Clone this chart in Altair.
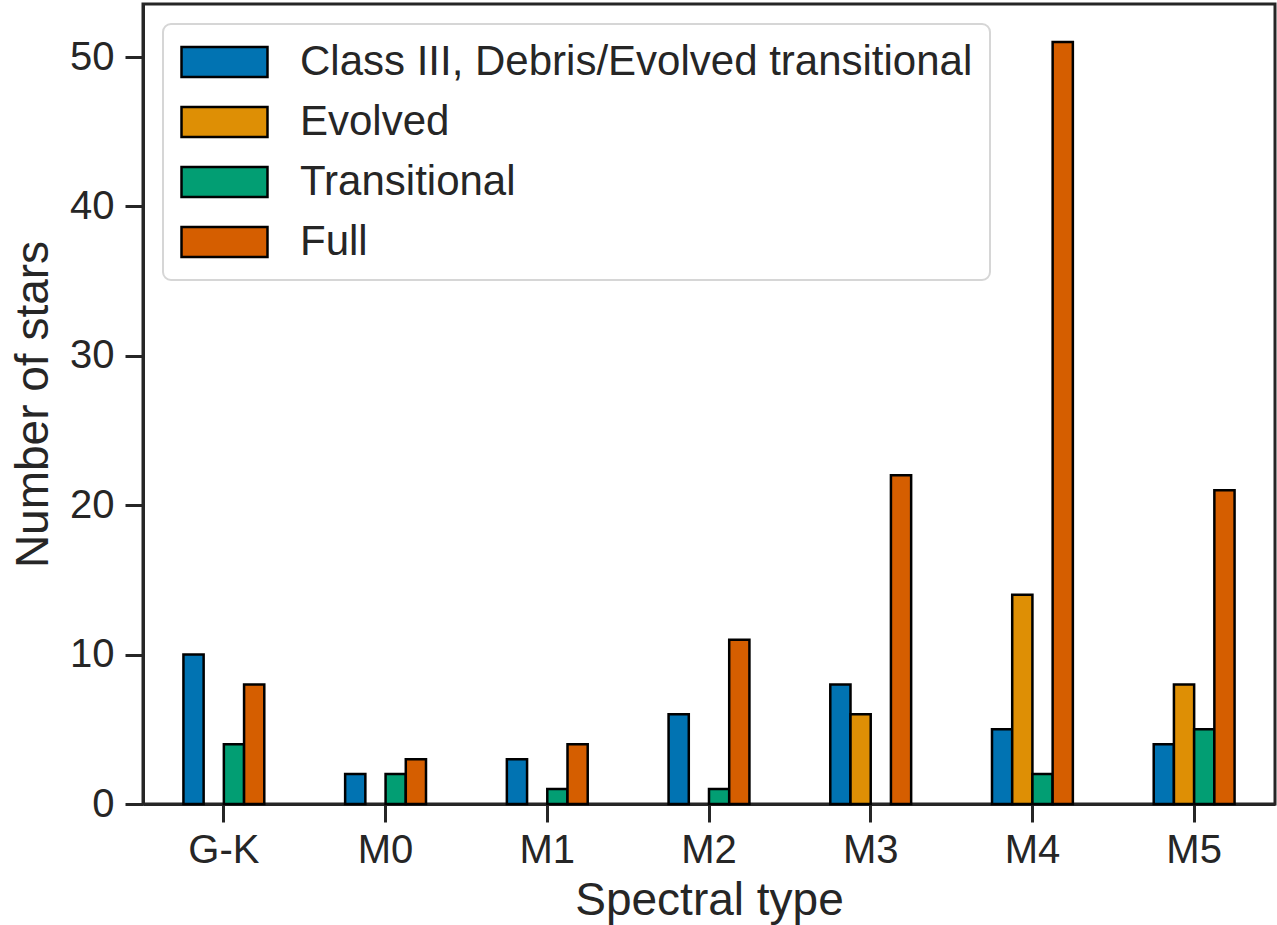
import altair as alt
import pandas as pd

spectral_types = ["G-K", "M0", "M1", "M2", "M3", "M4", "M5"]
disk_classes = ["Class III, Debris/Evolved transitional", "Evolved", "Transitional", "Full"]
class_iii = [10, 2, 3, 6, 8, 5, 4]
evolved = [0, 0, 0, 0, 6, 14, 8]
transitional = [4, 2, 1, 1, 0, 2, 5]
full = [8, 3, 4, 11, 22, 51, 21]
colors = ["#0173b2", "#de8f05", "#029e73", "#d55e00"]
y_ticks = [0, 10, 20, 30, 40, 50]

rows = []
for cls, vals in zip(disk_classes, [class_iii, evolved, transitional, full]):
    for st, v in zip(spectral_types, vals):
        rows.append({"type": st, "cls": cls, "n": v})
df = pd.DataFrame(rows)

FONT = "Liberation Sans"
TXT = "#262626"

W, H = 1132, 800
step = W / len(spectral_types)

# custom wide rectangle legend symbol
sym_size = 1296  # sqrt = 36 -> scale 18
sym_path = "M-1.083,-0.833H3.694V0.833H-1.083Z"

chart = alt.Chart(df).transform_filter(alt.datum.n > 0).mark_bar(
    stroke="black", strokeWidth=2.5, opacity=1
).encode(
    x=alt.X("type:N", sort=spectral_types, title="Spectral type",
            scale=alt.Scale(paddingInner=0, paddingOuter=0),
            axis=alt.Axis(labelAngle=0)),
    xOffset=alt.XOffset("cls:N", sort=disk_classes,
                        scale=alt.Scale(domain=disk_classes, paddingInner=0, paddingOuter=0,
                                        range=[step * 0.25, step * 0.75])),
    y=alt.Y("n:Q", title="Number of stars",
            scale=alt.Scale(domain=[0, 53.55], nice=False, zero=True),
            axis=alt.Axis(values=y_ticks, format="d")),
    color=alt.Color("cls:N", sort=disk_classes,
                    scale=alt.Scale(domain=disk_classes, range=colors),
                    legend=alt.Legend(title=None, orient="none", legendX=20, legendY=20,
                                      symbolType=sym_path, symbolSize=sym_size,
                                      symbolStrokeColor="black", symbolStrokeWidth=2.5,
                                      symbolOpacity=1,
                                      labelOffset=78, padding=17, rowPadding=18,
                                      labelFontSize=42, labelFont=FONT, labelColor=TXT,
                                      labelLimit=1000,
                                      strokeColor="#d6d6d6", cornerRadius=8,
                                      fillColor="white")),
).properties(
    width=W, height=H,
    autosize=alt.AutoSizeParams(type="none"),
    padding={"left": 143, "top": 4, "right": 2, "bottom": 121},
).configure_view(
    stroke=TXT, strokeWidth=3
).configure_axis(
    grid=False, domainColor=TXT, domainWidth=3, tickColor=TXT, tickWidth=3, tickSize=18,
    labelFont=FONT, labelFontSize=40, labelColor=TXT,
    titleFont=FONT, titleFontSize=46, titleColor=TXT, titleFontWeight="normal",
).configure_axisY(
    labelPadding=11, titlePadding=12
).configure_axisX(
    labelPadding=8, titlePadding=8
).configure_legend(
    strokeWidth=2
)

chart.save("out.html", embed_options={"renderer": "svg", "actions": False})
